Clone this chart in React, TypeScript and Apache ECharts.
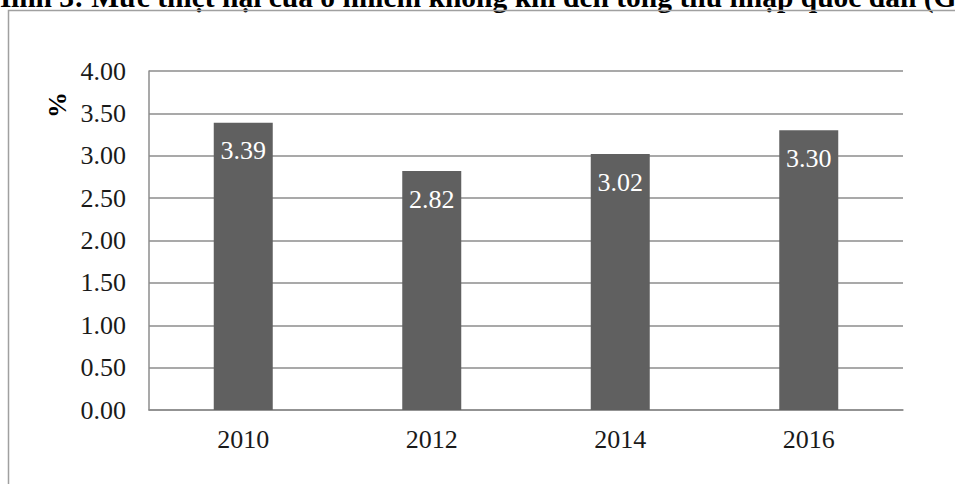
import React, { useEffect, useRef } from "react";
import * as echarts from "echarts";

const categories = ["2010", "2012", "2014", "2016"];
const values = [3.39, 2.82, 3.02, 3.3];
const yTicks = { min: 0, max: 4, interval: 0.5 };
const titleText = "Hình 3: Mức thiệt hại của ô nhiễm không khí đến tổng thu nhập quốc dân (GNI)";
const yAxisName = "%";

export default function App() {
  const ref = useRef<HTMLDivElement>(null);
  useEffect(() => {
    if (!ref.current) return;
    const chart = echarts.init(ref.current, null, { renderer: "svg" });
    const serif = "'Liberation Serif', 'Times New Roman', serif";
    chart.setOption({
      animation: false,
      backgroundColor: "#ffffff",
      textStyle: { fontFamily: serif },
      grid: { left: 149, right: 52, top: 71, bottom: 74 },
      graphic: [
        {
          type: "text",
          x: -12,
          y: 12,
          style: {
            text: titleText,
            font: "bold 29.5px " + serif,
            fill: "#000",
            verticalAlign: "bottom",
            align: "left",
          },
        },
        {
          type: "polyline",
          shape: { points: [[8.5, 490], [8.5, 10.5], [960, 10.5]] },
          style: { stroke: "#a0a0a0", lineWidth: 1.5, fill: "none" },
        },
        {
          type: "text",
          x: 57,
          y: 105,
          rotation: Math.PI / 2,
          style: {
            text: yAxisName,
            font: "bold 26px " + serif,
            fill: "#000",
            align: "center",
            verticalAlign: "middle",
          },
        },
      ],
      xAxis: {
        type: "category",
        data: categories,
        axisLine: { show: true, lineStyle: { color: "#8c8c8c", width: 1.5 } },
        axisTick: { show: false },
        axisLabel: { color: "#1a1a1a", fontSize: 26, fontFamily: serif, margin: 16 },
      },
      yAxis: {
        type: "value",
        min: yTicks.min,
        max: yTicks.max,
        interval: yTicks.interval,
        axisLine: { show: true, lineStyle: { color: "#8c8c8c", width: 1.5 } },
        axisTick: { show: false },
        splitLine: { show: true, lineStyle: { color: "#8c8c8c", width: 1.5 } },
        axisLabel: {
          color: "#1a1a1a",
          fontSize: 26,
          fontFamily: serif,
          margin: 23,
          formatter: (v: number) => v.toFixed(2),
        },
      },
      series: [
        {
          type: "bar",
          data: values,
          barWidth: 59,
          itemStyle: { color: "#606060" },
          label: {
            show: true,
            position: "insideTop",
            distance: 15,
            color: "#ffffff",
            fontSize: 26,
            fontFamily: serif,
            formatter: (p: any) => Number(p.value).toFixed(2),
          },
        },
      ],
    });
    return () => chart.dispose();
  }, []);
  return (
    <div
      ref={ref}
      style={{ position: "fixed", left: 0, top: 0, width: 955, height: 484 }}
    />
  );
}
